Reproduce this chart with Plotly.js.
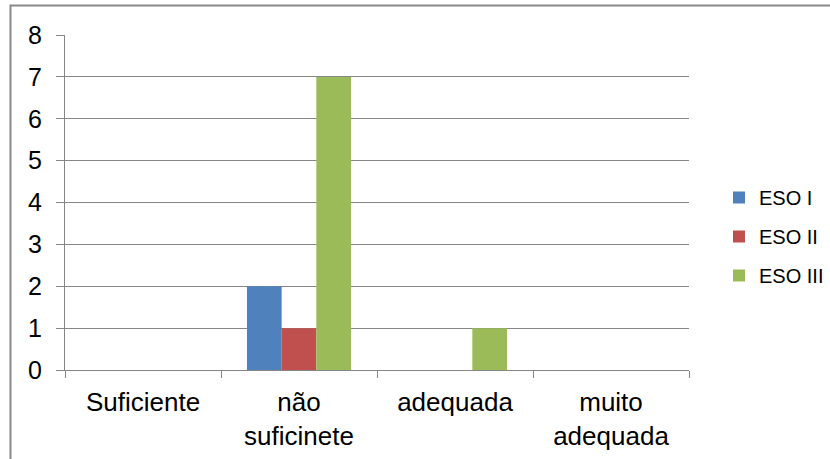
<!DOCTYPE html>
<html>
<head>
<meta charset="utf-8">
<script src="https://cdn.plot.ly/plotly-3.0.1.min.js"></script>
<style>html,body{margin:0;padding:0;background:#fff;}#chart{width:830px;height:459px;}</style>
</head>
<body>
<div id="chart"></div>
<script>
const categories = ["Suficiente", "não<br>suficinete", "adequada", "muito<br>adequada"];
const seriesNames = ["ESO I", "ESO II", "ESO III"];
const esoI = [0, 2, 0, 0];
const esoII = [0, 1, 0, 0];
const esoIII = [0, 7, 1, 0];
const colors = ["#4F81BD", "#C0504D", "#9BBB59"];
const yTicks = [0, 1, 2, 3, 4, 5, 6, 7, 8];

const values = [esoI, esoII, esoIII];
const traces = values.map((v, i) => ({
  type: "bar",
  name: seriesNames[i],
  x: categories,
  y: v,
  marker: {color: colors[i], line: {width: 0}},
  legendgroup: "g" + i,
  hoverinfo: "none"
}));

const L = 65, R = 689, T = 35, B = 370;
const W = R - L, H = B - T;
const px = x => (x - L) / W;
const py = y => (B - y) / H;

const layout = {
  width: 830, height: 459,
  margin: {l: L, r: 830 - R, t: T, b: 459 - B, pad: 0, autoexpand: false},
  paper_bgcolor: "#fff", plot_bgcolor: "#fff",
  font: {family: "Liberation Sans, Arial, sans-serif", color: "#000"},
  barmode: "group", bargap: 0.333, bargroupgap: 0,
  showlegend: true,
  legend: {
    x: px(719), y: py(178), xanchor: "left", yanchor: "top",
    font: {size: 20, color: "#000"},
    traceorder: "grouped", tracegroupgap: 10,
    bgcolor: "rgba(0,0,0,0)"
  },
  xaxis: {
    type: "category",
    showline: true, linecolor: "#868686", linewidth: 1,
    ticks: "outside", tickson: "boundaries", ticklen: 7, tickcolor: "#868686", tickwidth: 1,
    showgrid: false, zeroline: false,
    tickfont: {size: 26, color: "#000"},
    ticklabelstandoff: 9,
    fixedrange: true
  },
  yaxis: {
    range: [0, 8], tickvals: yTicks, ticktext: yTicks.map(String),
    showline: true, linecolor: "#868686", linewidth: 1,
    ticks: "outside", ticklen: 8, tickcolor: "#868686", tickwidth: 1,
    showgrid: true, gridcolor: "#868686", gridwidth: 1,
    zeroline: false,
    tickfont: {size: 25, color: "#000"},
    ticklabelstandoff: 9,
    fixedrange: true
  },
  shapes: [{
    type: "rect", xref: "paper", yref: "paper",
    x0: px(10.5), x1: px(845), y0: py(5.5), y1: py(475),
    line: {color: "#888888", width: 2}, fillcolor: "rgba(0,0,0,0)", layer: "below"
  }]
};

Plotly.newPlot("chart", traces, layout, {staticPlot: true, displayModeBar: false});
</script>
</body>
</html>
